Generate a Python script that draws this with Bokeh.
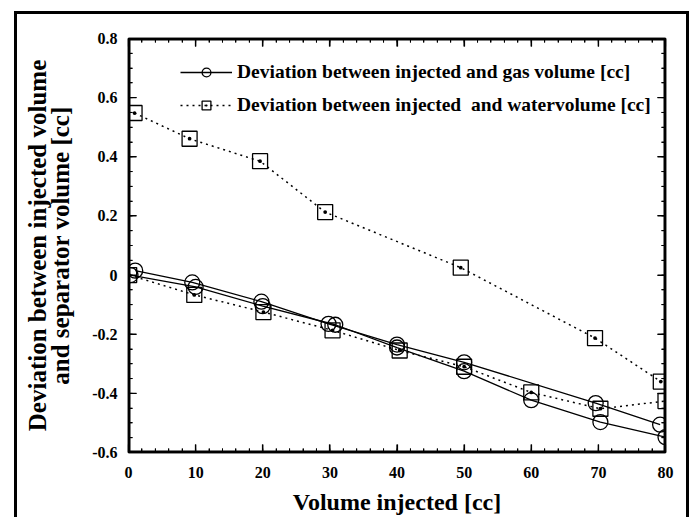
from bokeh.plotting import figure
from bokeh.layouts import gridplot
from bokeh.models import (LinearAxis, FixedTicker, CustomJSTickFormatter, Legend,
                          LegendItem, Range1d)
from bokeh.embed import file_html
from bokeh.resources import INLINE

# ---- data ----
x_ticks = [0, 10, 20, 30, 40, 50, 60, 70, 80]
y_ticks = [-0.6, -0.4, -0.2, 0.0, 0.2, 0.4, 0.6, 0.8]

gas_a_x = [1.0, 9.5, 19.8, 29.8, 40.0, 50.0, 69.6, 79.2]
gas_a_y = [0.015, -0.025, -0.09, -0.165, -0.235, -0.295, -0.433, -0.506]

gas_b_x = [0.3, 10.0, 20.0, 30.8, 40.0, 50.0, 60.0, 70.3, 80.0]
gas_b_y = [0.0, -0.04, -0.105, -0.168, -0.245, -0.325, -0.423, -0.497, -0.548]

water_a_x = [0.9, 9.1, 19.6, 29.3, 49.5, 69.5, 79.3]
water_a_y = [0.548, 0.461, 0.385, 0.213, 0.025, -0.213, -0.36]

water_b_x = [0.1, 9.8, 20.1, 30.4, 40.4, 50.0, 60.0, 70.3, 80.0]
water_b_y = [0.0, -0.067, -0.125, -0.187, -0.255, -0.31, -0.397, -0.452, -0.426]

gas_label = "Deviation between injected and gas volume [cc]"
water_label = "Deviation between injected  and watervolume [cc]"
x_title = "Volume injected [cc]"
y_title_1 = "Deviation between injected volume"
y_title_2 = "and separator volume [cc]"

FONT = "Liberation Serif"
FW, FH = 537, 414

p = figure(frame_width=FW, frame_height=FH, min_border_left=111, min_border_right=21,
           min_border_top=24, min_border_bottom=70, output_backend="svg",
           toolbar_location=None,
           x_range=Range1d(x_ticks[0], x_ticks[-1]), y_range=Range1d(y_ticks[0], y_ticks[-1]))
p.xgrid.visible = False
p.ygrid.visible = False
p.outline_line_color = "black"
p.outline_line_width = 1.5

fmt = CustomJSTickFormatter(code="return Math.abs(tick) < 1e-9 ? '0' : (Number.isInteger(tick) ? tick.toString() : tick.toFixed(1));")
blank = CustomJSTickFormatter(code="return '';")

def style_axis(ax, labels=True):
    ax.axis_line_width = 1.5
    ax.axis_line_color = "black"
    ax.major_tick_in = 8
    ax.major_tick_out = 0
    ax.minor_tick_in = 4
    ax.minor_tick_out = 0
    ax.major_tick_line_width = 1.2
    ax.minor_tick_line_width = 1
    ax.major_label_text_font = FONT
    ax.major_label_text_font_style = "bold"
    ax.major_label_text_font_size = "16px"
    ax.major_label_text_color = "black"
    ax.major_label_standoff = 11
    ax.axis_label_text_font = FONT
    ax.axis_label_text_font_style = "bold"
    ax.axis_label_text_font_size = "25px"
    ax.axis_label_text_color = "black"
    if not labels:
        ax.major_label_text_font_size = "0px"
        ax.major_label_standoff = 0

x_minor = [v * 2 for v in range(41)]
y_minor = [round(-0.6 + 0.05 * i, 2) for i in range(29)]
xt = FixedTicker(ticks=x_ticks, minor_ticks=x_minor)
yt = FixedTicker(ticks=y_ticks, minor_ticks=y_minor)

p.xaxis.ticker = xt
p.yaxis.ticker = yt
p.xaxis.formatter = fmt
p.yaxis.formatter = fmt
style_axis(p.xaxis[0])
style_axis(p.yaxis[0])
p.xaxis.major_label_standoff = 14
p.xaxis.axis_label = x_title
p.xaxis.axis_label_text_font_size = "24px"
p.yaxis.axis_label = y_title_2
p.xaxis.axis_label_standoff = 8
p.yaxis.axis_label_standoff = 15

top = LinearAxis(ticker=xt, formatter=blank)
right = LinearAxis(ticker=yt, formatter=blank)
style_axis(top, labels=False)
style_axis(right, labels=False)
p.add_layout(top, "above")
p.add_layout(right, "right")

left2 = LinearAxis(ticker=FixedTicker(ticks=[]), formatter=blank, axis_label=y_title_1)
style_axis(left2, labels=False)
left2.axis_line_color = None
left2.major_tick_in = 0
left2.minor_tick_in = 0
left2.axis_label_standoff = -6
p.add_layout(left2, "left")

# ---- frame and inward ticks drawn as glyphs just inside the plot area ----
x0, x1 = x_ticks[0], x_ticks[-1]
y0, y1 = y_ticks[0], y_ticks[-1]
dx = (x1 - x0) / FW   # data units per pixel
dy = (y1 - y0) / FH
ins = 1.0
p.quad(left=[x0 + ins * dx], right=[x1 - ins * dx], bottom=[y0 + ins * dy], top=[y1 - ins * dy],
       fill_alpha=0, line_color="black", line_width=2)

def xticks_segs(vals, length):
    xs0, ys0, xs1, ys1 = [], [], [], []
    for v in vals:
        xs0 += [v, v]; xs1 += [v, v]
        ys0 += [y0, y1]; ys1 += [y0 + length * dy, y1 - length * dy]
    return xs0, ys0, xs1, ys1

def yticks_segs(vals, length):
    xs0, ys0, xs1, ys1 = [], [], [], []
    for v in vals:
        ys0 += [v, v]; ys1 += [v, v]
        xs0 += [x0, x1]; xs1 += [x0 + length * dx, x1 - length * dx]
    return xs0, ys0, xs1, ys1

for segs, w in [(xticks_segs(x_ticks, 8), 1.3), (xticks_segs(x_minor, 4), 1.0),
                (yticks_segs(y_ticks, 8), 1.3), (yticks_segs(y_minor, 4), 1.0)]:
    a, b, c, d = segs
    p.segment(x0=a, y0=b, x1=c, y1=d, line_color="black", line_width=w)

# ---- series ----
ga_l = p.line(gas_a_x, gas_a_y, line_color="black", line_width=1.3)
ga_m = p.scatter(gas_a_x, gas_a_y, marker="circle", size=15, fill_color="white",
                 fill_alpha=0, line_color="black", line_width=1.3)
gb_l = p.line(gas_b_x, gas_b_y, line_color="black", line_width=1.3)
gb_m = p.scatter(gas_b_x, gas_b_y, marker="circle", size=15, fill_color="white",
                 fill_alpha=0, line_color="black", line_width=1.3)
wa_l = p.line(water_a_x, water_a_y, line_color="black", line_width=1.5, line_dash="2 4")
wa_m = p.scatter(water_a_x, water_a_y, marker="square_dot", size=15, fill_color="white",
                 fill_alpha=0, line_color="black", line_width=1.3)
wb_l = p.line(water_b_x, water_b_y, line_color="black", line_width=1.5, line_dash="2 4")
wb_m = p.scatter(water_b_x, water_b_y, marker="square_dot", size=15, fill_color="white",
                 fill_alpha=0, line_color="black", line_width=1.3)

legend = Legend(items=[LegendItem(label=gas_label, renderers=[ga_l, ga_m]),
                       LegendItem(label=water_label, renderers=[wa_l, wa_m])],
                location=(52, 336), glyph_width=52, glyph_height=22, spacing=11,
                label_standoff=5, padding=0, margin=0, border_line_color=None,
                background_fill_alpha=0, label_text_font=FONT,
                label_text_font_style="bold", label_text_font_size="19.5px",
                label_text_color="black", label_height=22)
p.add_layout(legend, "center")

g = gridplot([[p]], toolbar_location=None)
g.margin = (11, 0, 0, 14)
g.styles = {"border": "3px solid black"}

open("out.html", "w").write(file_html(g, INLINE))
